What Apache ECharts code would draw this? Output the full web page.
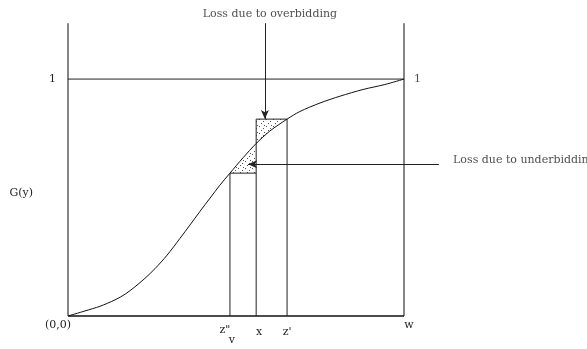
<!DOCTYPE html>
<html>
<head>
<meta charset="utf-8">
<script src="https://cdn.jsdelivr.net/npm/echarts@6/dist/echarts.min.js"></script>
<style>
  html, body { margin: 0; padding: 0; background: #fff; }
  #chart { width: 587px; height: 349px; }
</style>
</head>
<body>
<div id="chart"></div>
<script>
// Bid points on the horizontal axis (w = 1)
const zpp = 0.482;   // z''
const xb = 0.560;    // x
const zp = 0.652;    // z'
const wEnd = 1;      // w
const axisTop = 1.236;

// Distribution function G(y), read as [y, G(y)] pairs
const curveX = [0, 0.051, 0.095, 0.140, 0.170, 0.199, 0.229, 0.259, 0.295, 0.333, 0.363, 0.393, 0.423, 0.452,
  0.482, 0.521, 0.560, 0.601, 0.652, 0.690, 0.750, 0.810, 0.878, 0.943, 1];
const curveY = [0, 0.0215, 0.041, 0.068, 0.092, 0.123, 0.159, 0.200, 0.257, 0.327, 0.384, 0.442, 0.498, 0.552,
  0.603, 0.668, 0.728, 0.781, 0.831, 0.863, 0.899, 0.928, 0.956, 0.977, 1];

// Levels of G at the two bounding bids
const lowLevel = 0.603;
const highLevel = 0.831;

// Tick labels
const xTickValues = [0, zpp, xb, zp, wEnd];
const xTickNames = ['(0,0)', 'z"', 'x', "z'", 'w'];
const yTickValues = [1, 0.519];
const yTickNames = ['1', 'G(y)'];

// Annotations: [x, y, text]
const overText = [0.601, 1.274, 'Loss due to overbidding'];
const underText = [1.146, 0.658, 'Loss due to underbidding'];
// Arrows: from -> to
const overArrow = [[0.586, axisTop], [0.586, highLevel]];
const underArrow = [[1.104, 0.641], [0.536, 0.641]];

const curve = curveX.map((v, i) => [v, curveY[i]]);

// Shaded pieces between the curve and the bid rectangle
function curveBetween(a, b) {
  return curve.filter(p => p[0] >= a - 1e-9 && p[0] <= b + 1e-9);
}
const upperPoly = [[xb, highLevel], [zp, highLevel]].concat(curveBetween(xb, zp).reverse());
const lowerPoly = [[zpp, lowLevel], [xb, lowLevel]].concat(curveBetween(zpp, xb).reverse());

// Frame and bid lines as segments
const frameSegs = [
  [[0, 0], [0, axisTop]],
  [[wEnd, 0], [wEnd, axisTop]]
];
const baseSegs = [
  [[0, 0], [wEnd, 0]]
];
const thinSegs = [
  [[0, 1], [wEnd, 1]],
  [[zpp, 0], [zpp, lowLevel]],
  [[zpp, lowLevel], [xb, lowLevel]],
  [[xb, 0], [xb, highLevel]],
  [[xb, highLevel], [zp, highLevel]],
  [[zp, 0], [zp, highLevel]]
];

// Stipple fill
const dots = document.createElement('canvas');
dots.width = 7; dots.height = 7;
(function () {
  const c = dots.getContext('2d');
  c.fillStyle = '#555';
  [[0, 0], [4, 2], [2, 4], [5, 6]].forEach(p => c.fillRect(p[0], p[1], 1, 1));
})();

const FONT = 'DejaVu Serif';
const FS = 11;
const TXT = '#222';

function segSeries(segs, color, width) {
  return segs.map(s => ({
    type: 'line', data: s, symbol: 'none', silent: true, clip: false,
    lineStyle: { color: color, width: width }, z: 3
  }));
}

function rs(pad, lh) {
  const o = { fontFamily: FONT, fontSize: FS, color: TXT, padding: pad };
  if (lh) o.lineHeight = lh;
  return o;
}

const chart = echarts.init(document.getElementById('chart'));
chart.setOption({
  animation: false,
  grid: { left: 68, right: 15, top: 8, bottom: 33 },
  xAxis: {
    type: 'value', min: 0, max: 1.5,
    axisLine: { show: false }, axisTick: { show: false }, splitLine: { show: false },
    axisLabel: {
      customValues: xTickValues, margin: 4, color: TXT, fontFamily: FONT, fontSize: FS,
      formatter: function (v) {
        const i = xTickValues.findIndex(t => Math.abs(t - v) < 1e-6);
        if (i === 0) return '{o|' + xTickNames[0] + '}';
        if (i === 1) return '{zz|' + xTickNames[1] + '}\n{v|v}';
        if (i === 2) return '{xx|' + xTickNames[2] + '}';
        if (i === 3) return '{z|' + xTickNames[3] + '}';
        if (i === 4) return '{w|' + xTickNames[4] + '}';
        return '';
      },
      rich: {
        o: rs([0, 20, 0, 0]),
        zz: rs([7, 10, 0, 0], 13),
        v: rs([2, 0, 0, 4], 13),
        xx: rs([7, 0, 0, 6]),
        z: rs([7, 0, 0, 0]),
        w: rs([0, 0, 0, 10])
      }
    }
  },
  yAxis: {
    type: 'value', min: 0, max: 1.3,
    axisLine: { show: false }, axisTick: { show: false }, splitLine: { show: false },
    axisLabel: {
      customValues: yTickValues, margin: 12, color: TXT, fontFamily: FONT, fontSize: FS,
      formatter: function (v) {
        const i = yTickValues.findIndex(t => Math.abs(t - v) < 1e-6);
        return i === 1 ? '{g|' + yTickNames[1] + '}' : yTickNames[0];
      },
      rich: { g: rs([0, 23, 0, 0]) }
    }
  },
  series: [
    {
      type: 'custom', silent: true, z: 1,
      data: [0, 1],
      renderItem: function (params, api) {
        const poly = params.dataIndex === 0 ? upperPoly : lowerPoly;
        return {
          type: 'polygon',
          shape: { points: poly.map(p => api.coord(p)) },
          style: { fill: { image: dots, repeat: 'repeat' }, stroke: null }
        };
      }
    },
    {
      type: 'line', data: curve, symbol: 'none', smooth: 0.3, silent: true, z: 4,
      lineStyle: { color: '#111', width: 1 }
    },
    ...segSeries(frameSegs, '#666', 1.6),
    ...segSeries(baseSegs, '#111', 1.3),
    ...segSeries(thinSegs, '#222', 1),
    {
      type: 'line', data: [], silent: true,
      markLine: {
        silent: true, symbol: ['none', 'arrow'], symbolSize: [6, 9],
        label: { show: false },
        lineStyle: { color: '#222', width: 1, type: 'solid' },
        data: [
          [{ coord: overArrow[0] }, { coord: overArrow[1] }],
          [{ coord: underArrow[0] }, { coord: underArrow[1] }]
        ]
      }
    },
    {
      type: 'scatter', symbolSize: 0, silent: true, clip: false, z: 5,
      data: [
        { value: [overText[0], overText[1]], label: { position: [0, 0], align: 'center', verticalAlign: 'middle', formatter: overText[2] } },
        { value: [underText[0], underText[1]], label: { position: [0, 0], align: 'left', verticalAlign: 'middle', formatter: underText[2] } },
        { value: [wEnd, 1], label: { position: [10, 0], align: 'left', verticalAlign: 'middle', formatter: '1' } }
      ],
      label: { show: true, color: TXT, fontFamily: FONT, fontSize: FS }
    }
  ]
});
</script>
</body>
</html>
